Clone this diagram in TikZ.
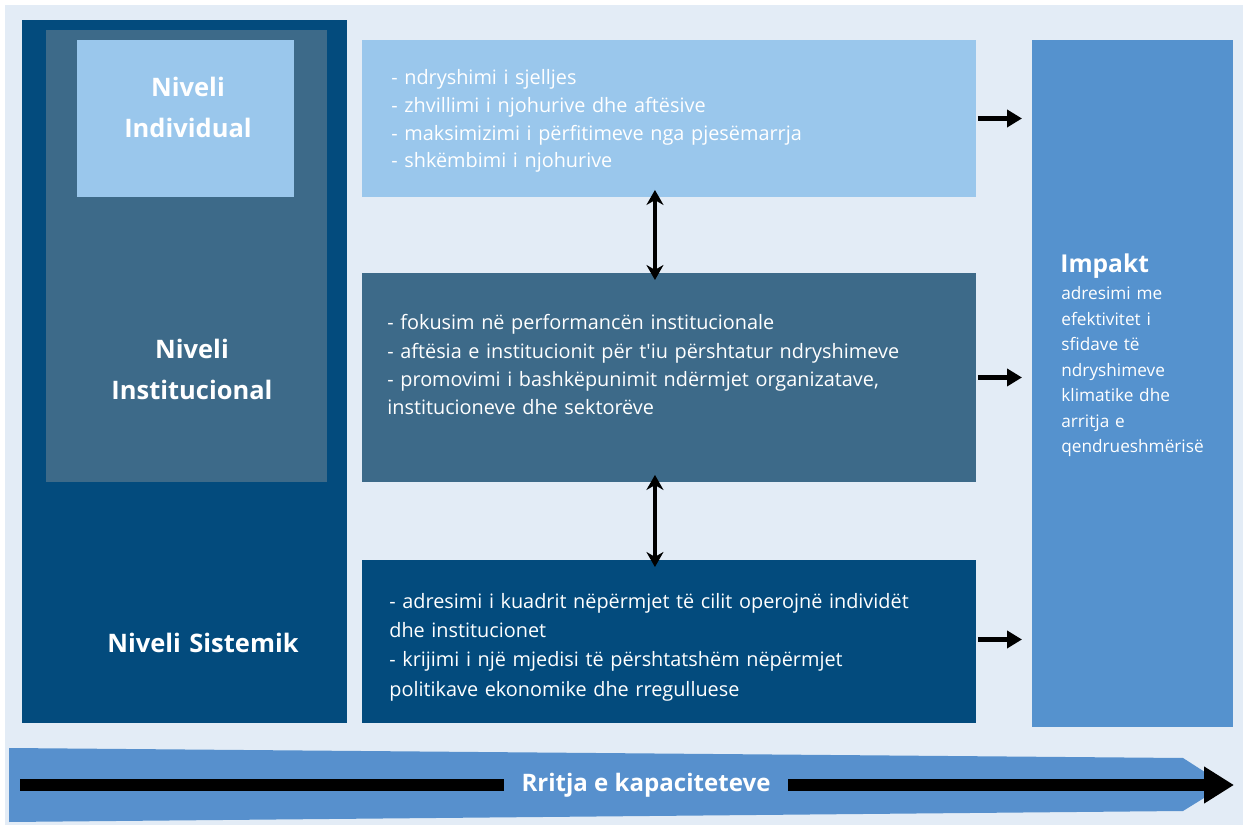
\documentclass[tikz,border=0pt]{standalone}
\usepackage{fontspec}
\setmainfont{Open Sans}
\usepackage{xcolor}
\usepackage{tikz}
\usetikzlibrary{arrows.meta,calc}

\definecolor{panelbg}{HTML}{E3ECF6}
\definecolor{indblue}{HTML}{9AC7EC}
\definecolor{instblue}{HTML}{3D6A89}
\definecolor{sysblue}{HTML}{034B7D}
\definecolor{impaktblue}{HTML}{5592CE}
\definecolor{bandblue}{HTML}{5790CD}

\begin{document}
\begin{tikzpicture}[x=0.02cm, y=-0.02cm]
    % Define styles
    \tikzstyle{level} = [rectangle, anchor=north west, inner sep=0pt, outer sep=0pt]
    \tikzstyle{heading} = [text=white, font=\fontsize{14.5}{23.2}\selectfont\bfseries, text width=5.5cm, align=center, anchor=base, inner sep=0pt]
    \tikzstyle{list} = [text=white, font=\fontsize{11.3}{16}\selectfont, text width=11.6cm, align=left, anchor=base west, inner sep=0pt]
    \tikzstyle{flow} = [line width=2.8pt, -{Triangle[length=0.3cm,width=0.34cm]}, shorten <=0.04cm, shorten >=0.2cm]
    \tikzstyle{link} = [line width=2pt, {Stealth[length=0.3cm,width=0.34cm]}-{Stealth[length=0.3cm,width=0.34cm]}, shorten <=-0.14cm, shorten >=-0.14cm]

    \useasboundingbox (0,0) rectangle (1247,830);
    \fill[panelbg] (5,5) rectangle (1243,825);

    % Levels
    \node [level, fill=sysblue, minimum width=6.5cm, minimum height=14.06cm] (sistemik) at (22,20) {};
    \node [level, fill=instblue, minimum width=5.62cm, minimum height=9.04cm] (institucional) at (46,30) {};
    \node [level, fill=indblue, minimum width=4.34cm, minimum height=3.14cm] (individual) at (77,40) {};

    \node [heading] (indtitle) at (188,97) {Niveli\\Individual};
    \node [heading] (insttitle) at (192,359) {Niveli\\Institucional};
    \node [heading] (systitle) at (203,652) {Niveli Sistemik};

    % Descriptions
    \node [level, fill=indblue, minimum width=12.28cm, minimum height=3.14cm] (indbox) at (362,40) {};
    \node [level, fill=instblue, minimum width=12.28cm, minimum height=4.18cm] (instbox) at (362,273) {};
    \node [level, fill=sysblue, minimum width=12.28cm, minimum height=3.26cm] (sysbox) at (362,560) {};

    \node [list, font=\fontsize{11.3}{15.7}\selectfont] (indlist) at (391,85) {- ndryshimi i sjelljes\\- zhvillimi i njohurive dhe aftësive\\- maksimizimi i përfitimeve nga pjesëmarrja\\- shkëmbimi i njohurive};
    \node [list] (instlist) at (387,330) {- fokusim në performancën institucionale\\- aftësia e institucionit për t\textquotesingle iu përshtatur ndryshimeve\\- promovimi i bashkëpunimit ndërmjet organizatave,\\institucioneve dhe sektorëve};
    \node [list, font=\fontsize{11.3}{16.7}\selectfont] (syslist) at (389,608) {- adresimi i kuadrit nëpërmjet të cilit operojnë individët\\dhe institucionet\\- krijimi i një mjedisi të përshtatshëm nëpërmjet\\politikave ekonomike dhe rregulluese};

    % Impact
    \node [level, fill=impaktblue, minimum width=4.02cm, minimum height=13.74cm] (impakt) at (1032,40) {};
    \node [anchor=base west, inner sep=0pt, text=white, font=\fontsize{14}{16}\selectfont\bfseries] (impakttitle) at (1060,273) {Impakt};
    \node [list, font=\fontsize{9.8}{14.5}\selectfont, text width=3.6cm] (impakttext) at (1061,300) {adresimi me\\efektivitet i\\sfidave të\\ndryshimeve\\klimatike dhe\\arritja e\\qendrueshmërisë};

    % Arrows
    \draw [link] ([xshift=-0.28cm]indbox.south) -- ([xshift=-0.28cm]instbox.north);
    \draw [link] ([xshift=-0.28cm]instbox.south) -- ([xshift=-0.28cm]sysbox.north);

    \draw [flow] (indbox.east) -- (indbox.east -| impakt.west);
    \draw [flow] (instbox.east) -- (instbox.east -| impakt.west);
    \draw [flow] ([yshift=0.04cm]sysbox.east) -- ([yshift=0.04cm]sysbox.east -| impakt.west);

    % Growth band
    \fill [bandblue] (9,748) -- (1183,758) -- (1225,785) -- (1183,811) -- (9,822) -- cycle;
    \coordinate (growstart) at (20,785);
    \coordinate (growend) at (1234,785);
    \draw [line width=6.5pt, -{Triangle[length=0.6cm,width=0.7cm]}] (growstart) -- (growend);
    \node [fill=bandblue, minimum width=5.68cm, minimum height=0.9cm, inner sep=0pt, text=white, font=\fontsize{13.7}{16}\selectfont\bfseries] (growth) at (646,785) {Rritja e kapaciteteve};
\end{tikzpicture}
\end{document}
